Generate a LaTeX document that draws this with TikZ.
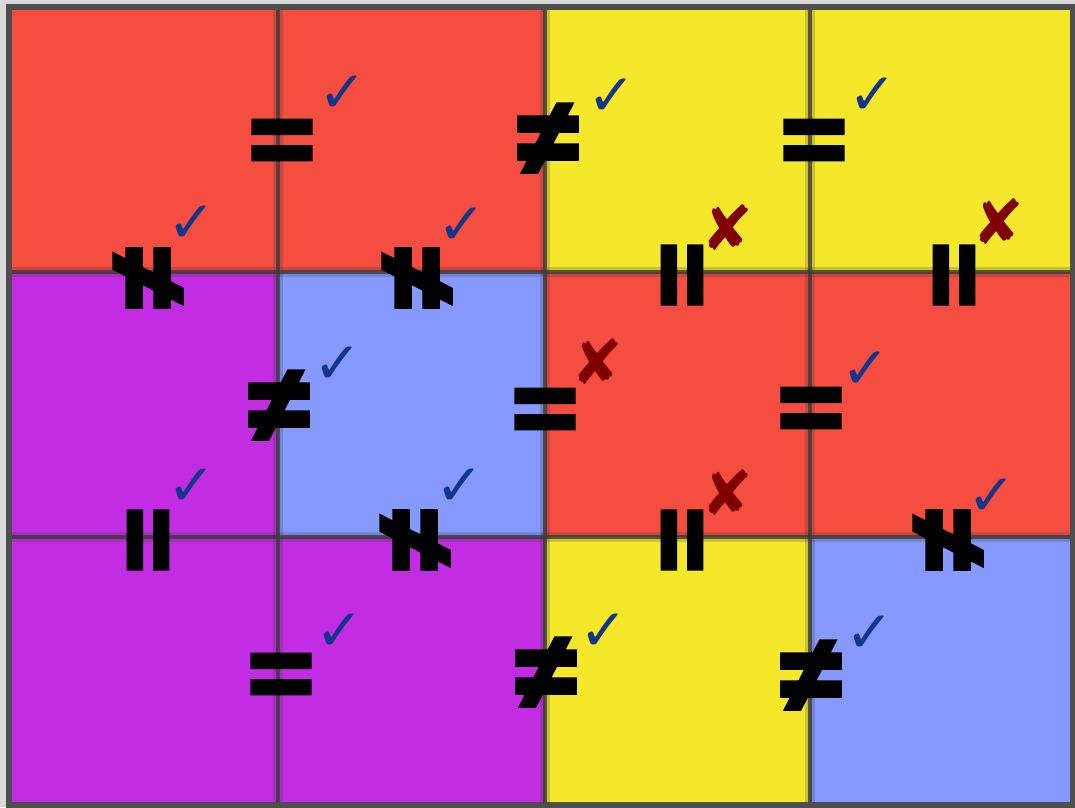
\documentclass[tikz,border=0pt]{standalone}
\usepackage{fontspec}
\usepackage{graphicx}
\newfontfamily\symf[FakeBold=6]{Liberation Sans Bold}
\newfontfamily\markf{DejaVu Sans}
\definecolor{cred}{HTML}{F54D40}
\definecolor{cyel}{HTML}{F5E72A}
\definecolor{cpur}{HTML}{C22CE3}
\definecolor{cblu}{HTML}{8599FF}
\definecolor{ckb}{HTML}{14368A}
\definecolor{xrd}{HTML}{800000}
\definecolor{gridc}{HTML}{3A3A3A}
\newcommand{\myeqglyph}{\scalebox{1.05}[0.94]{=}}
\newcommand{\myneqglyph}{\scalebox{1.02}[1.0]{≠}}
\tikzset{
  gridline/.style={draw=gridc, line width=4pt, opacity=0.8},
  gridsoft/.style={draw=gridc, line width=10pt, opacity=0.22},
  sym/.style={font=\symf\fontsize{104}{104}\selectfont, inner sep=0pt, text=black},
  vsym/.style={sym, rotate=90},
  okmark/.style={font=\markf\fontsize{58}{58}\selectfont, inner sep=0pt, text=ckb},
  badmark/.style={font=\markf\fontsize{62}{62}\selectfont, inner sep=0pt, text=xrd},
}
\begin{document}
\begin{tikzpicture}[x=1pt,y=-1pt]
\useasboundingbox (0,0) rectangle (1075,807);
\fill[gray!30] (0,0) rectangle (1075,807);
% cells
\fill[cred] (12,9) rectangle (278,272);
\fill[cred] (278,9) rectangle (545,272);
\fill[cyel] (545,9) rectangle (810,272);
\fill[cyel] (810,9) rectangle (1072,272);
\fill[cpur] (12,272) rectangle (278,537);
\fill[cblu] (278,272) rectangle (545,537);
\fill[cred] (545,272) rectangle (810,537);
\fill[cred] (810,272) rectangle (1072,537);
\fill[cpur] (12,537) rectangle (278,803);
\fill[cpur] (278,537) rectangle (545,803);
\fill[cyel] (545,537) rectangle (810,803);
\fill[cblu] (810,537) rectangle (1072,803);
% grid
\foreach \gx in {278,545,810} {\draw[gridsoft] (\gx,9) -- (\gx,803); \draw[gridline] (\gx,9) -- (\gx,803);}
\foreach \gy in {272,537} {\draw[gridsoft] (12,\gy) -- (1072,\gy); \draw[gridline] (12,\gy) -- (1072,\gy);}
\draw[draw=gridc!90, line width=6pt] (9,6.5) rectangle (1073,805);
% horizontal-neighbour symbols (= nodes offset by +8 so the bars sit on the edge midpoint)
\node[sym] (h00) at (282,147) {\myeqglyph};
\node[sym] (h01) at (548,139) {\myneqglyph};
\node[sym] (h02) at (814,147) {\myeqglyph};
\node[sym] (h10) at (279,406) {\myneqglyph};
\node[sym] (h11) at (545,416) {\myeqglyph};
\node[sym] (h12) at (811,415) {\myeqglyph};
\node[sym] (h20) at (281,681) {\myeqglyph};
\node[sym] (h21) at (546,673) {\myneqglyph};
\node[sym] (h22) at (811,676) {\myneqglyph};
% vertical-neighbour symbols
\node[vsym] (v00) at (149,278) {\myneqglyph};
\node[vsym] (v01) at (418,278) {\myneqglyph};
\node[vsym] (v02) at (689,275) {\myeqglyph};
\node[vsym] (v03) at (961,275) {\myeqglyph};
\node[vsym] (v10) at (155,540) {\myeqglyph};
\node[vsym] (v11) at (416,540) {\myneqglyph};
\node[vsym] (v12) at (689,540) {\myeqglyph};
\node[vsym] (v13) at (949,540) {\myneqglyph};
% marks
\node[okmark] (mh00) at (343,94) {✓};
\node[okmark] (mh01) at (612,97) {✓};
\node[okmark] (mh02) at (873,96) {✓};
\node[okmark] (mh10) at (338,365) {✓};
\node[badmark] (mh11) at (597,362) {✘};
\node[okmark] (mh12) at (866,370) {✓};
\node[okmark] (mh20) at (340,632) {✓};
\node[okmark] (mh21) at (604,632) {✓};
\node[okmark] (mh22) at (870,634) {✓};
\node[okmark] (mv00) at (192,224) {✓};
\node[okmark] (mv01) at (462,226) {✓};
\node[badmark] (mv02) at (727,228) {✘};
\node[badmark] (mv03) at (998,222) {✘};
\node[okmark] (mv10) at (192,487) {✓};
\node[okmark] (mv11) at (460,487) {✓};
\node[badmark] (mv12) at (727,493) {✘};
\node[okmark] (mv13) at (992,497) {✓};
\end{tikzpicture}
\end{document}
